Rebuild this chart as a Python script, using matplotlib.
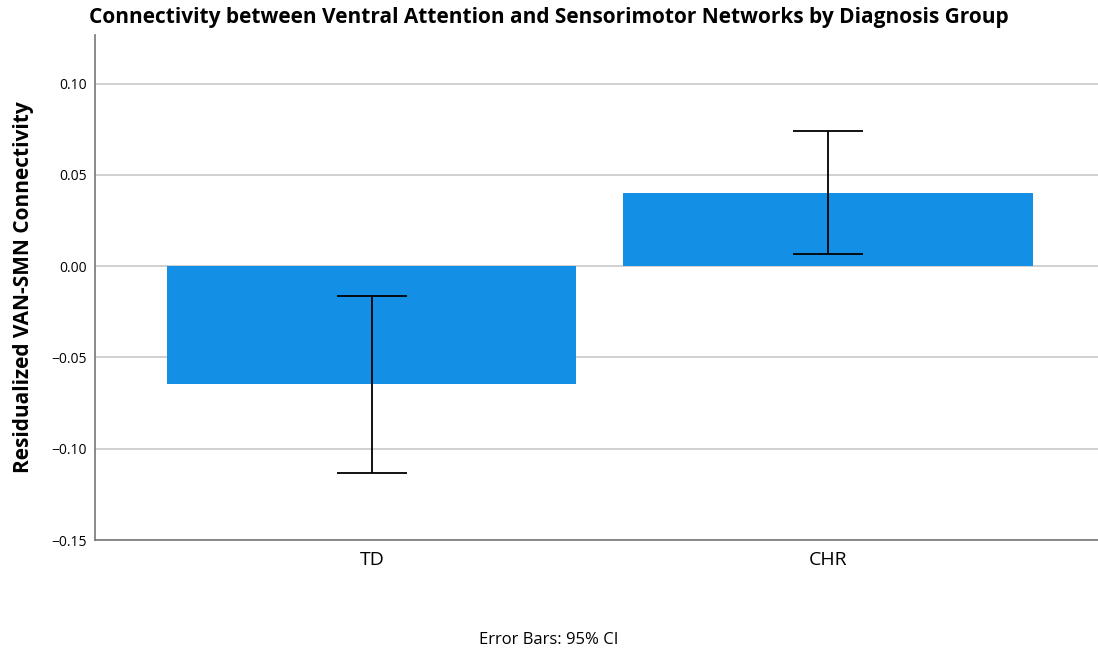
import matplotlib
matplotlib.use("Agg")
import matplotlib.pyplot as plt

groups = ["TD", "CHR"]
means = [-0.0647, 0.0403]
ci_low = [-0.1135, 0.0066]
ci_high = [-0.0164, 0.0742]

BAR_COLOR = "#1390E6"
GRID_COLOR = "#c8c8c8"
SPINE_COLOR = "#777777"

plt.rcParams["font.family"] = ["Open Sans", "DejaVu Sans"]

fig = plt.figure(figsize=(10.98, 6.52), dpi=100)
ax = fig.add_axes([95 / 1098, 112 / 652, 1 - 95 / 1098, (540 - 35) / 652])

x = list(range(len(groups)))
err_lo = [m - lo for m, lo in zip(means, ci_low)]
err_hi = [hi - m for m, hi in zip(means, ci_high)]

ax.bar(x, means, width=0.897, color=BAR_COLOR, zorder=2)
ax.errorbar(x, means, yerr=[err_lo, err_hi], fmt="none", ecolor="black",
            elinewidth=1.3, capsize=25, capthick=1.3, zorder=3)

ax.set_xlim(-0.607, 1.592)
ax.set_ylim(-0.15, 0.1266)
ax.set_yticks([-0.15, -0.10, -0.05, 0.00, 0.05, 0.10])
ax.set_yticklabels(["\u22120.15", "\u22120.10", "\u22120.05", "0.00", "0.05", "0.10"], fontsize=10)
ax.set_xticks(x)
ax.set_xticklabels(groups, fontsize=14)
ax.tick_params(axis="x", length=0, pad=8)
ax.tick_params(axis="y", length=0, pad=6)

ax.grid(axis="y", color=GRID_COLOR, linewidth=1.2, zorder=0)
ax.set_axisbelow(True)
for side in ["top", "right"]:
    ax.spines[side].set_visible(False)
for side in ["left", "bottom"]:
    ax.spines[side].set_color(SPINE_COLOR)
    ax.spines[side].set_linewidth(1.2)

ax.set_ylabel("Residualized VAN-SMN Connectivity", fontsize=15, fontweight="bold", labelpad=12)

fig.text(0.5, 1 - 17 / 652, "Connectivity between Ventral Attention and Sensorimotor Networks by Diagnosis Group",
         ha="center", va="center", fontsize=15, fontweight="bold")
fig.text(0.5, 1 - 640 / 652, "Error Bars: 95% CI", ha="center", va="center", fontsize=12)

fig.savefig("out.png", dpi=100)
